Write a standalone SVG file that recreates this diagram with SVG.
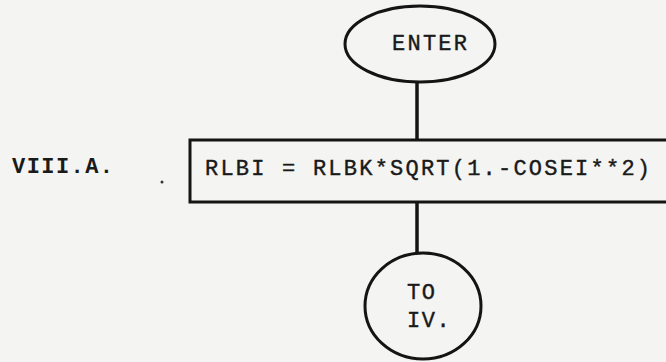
<svg xmlns="http://www.w3.org/2000/svg" width="666" height="362" viewBox="0 0 666 362">
<style>
.bg{fill:#f4f4f2}
.shape{fill:none;stroke:#141414;stroke-width:3}
.conn{stroke:#141414;stroke-width:3.5;fill:none}
.t{font-family:"Liberation Mono","Courier New",monospace;font-size:22px;fill:#1a1a1a;stroke:#1a1a1a;stroke-width:0.4}
.b{font-weight:bold;stroke-width:0}
.s{letter-spacing:1.5px}
</style>
<rect class="bg" x="0" y="0" width="666" height="362"/>
<g id="connectors">
<line class="conn" x1="417" y1="81" x2="417" y2="140"/>
<line class="conn" x1="417" y1="202" x2="417" y2="254"/>
</g>
<g id="enter">
<ellipse class="shape" cx="420" cy="44" rx="75" ry="38"/>
<text class="t" x="392" y="50" textLength="75" lengthAdjust="spacing">ENTER</text>
</g>
<g id="label">
<text class="t b" x="12" y="173" textLength="101" lengthAdjust="spacing">VIII.A.</text>
<circle cx="162" cy="182" r="1.5" fill="#333"/>
</g>
<g id="process">
<rect class="shape" x="190" y="140" width="500" height="62"/>
<text class="t" x="205" y="175" textLength="445" lengthAdjust="spacing">RLBI = RLBK*SQRT(1.-COSEI**2)</text>
</g>
<g id="to-iv">
<ellipse class="shape" cx="423" cy="306" rx="58" ry="53"/>
<text class="t s" x="407" y="299">TO</text>
<text class="t s" x="407" y="327">IV.</text>
</g>
</svg>
